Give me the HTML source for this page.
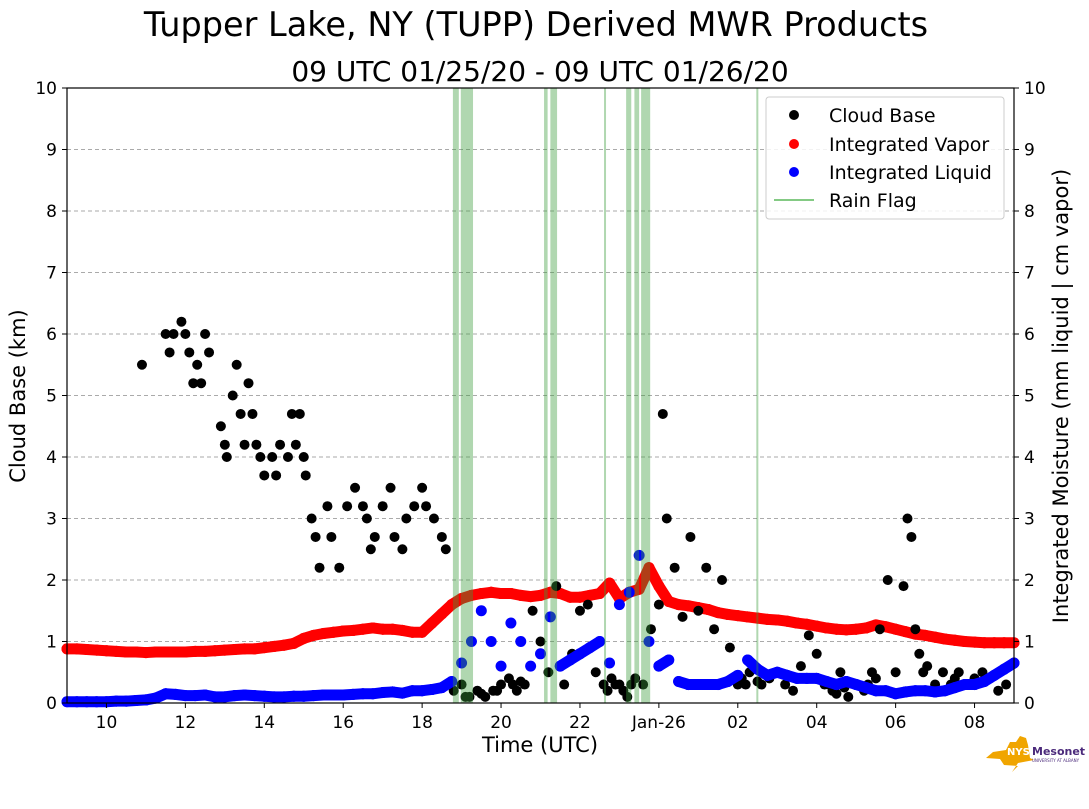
<!DOCTYPE html>
<html><head><meta charset="utf-8"><style>
body{margin:0;background:#fff;}
svg text{font-family:"DejaVu Sans","Liberation Sans",sans-serif;}
</style></head><body>
<svg id="chart" width="1089" height="804" xmlns="http://www.w3.org/2000/svg">
<text x="536" y="36" font-size="33.5" text-anchor="middle">Tupper Lake, NY (TUPP) Derived MWR Products</text>
<text x="540" y="81" font-size="28" text-anchor="middle">09 UTC 01/25/20 - 09 UTC 01/26/20</text>
<g id="grid"></g>
<g id="marks"></g>
<g id="rain"></g>
<rect x="67" y="88" width="947" height="615" fill="none" stroke="#000" stroke-width="1.2"/>
<g id="axes"></g>
<text x="540" y="752" font-size="21" text-anchor="middle">Time (UTC)</text>
<text transform="translate(25,396) rotate(-90)" font-size="21" text-anchor="middle">Cloud Base (km)</text>
<text transform="translate(1068,396) rotate(-90)" font-size="21" text-anchor="middle">Integrated Moisture (mm liquid | cm vapor)</text>
<g>
<rect x="766" y="97" width="238" height="122" rx="3" fill="#fff" fill-opacity="0.85" stroke="#ccc"/>
<circle cx="794" cy="115" r="5" fill="#000"/><text x="829" y="122" font-size="19">Cloud Base</text>
<circle cx="794" cy="144" r="5" fill="#f00"/><text x="829" y="151" font-size="19">Integrated Vapor</text>
<circle cx="794" cy="172" r="5" fill="#00f"/><text x="829" y="179" font-size="19">Integrated Liquid</text>
<line x1="774" y1="200" x2="814" y2="200" stroke="#5cb85c" stroke-width="1.5"/><text x="829" y="207" font-size="19">Rain Flag</text>
</g>
<g>
<polygon points="1010,742 1016,742 1020,736 1026,738 1028,745 1030,758 1034,760 1018,763 1012,772 1018,766 1004,765 1000,759 986,758 993,752 1006,750" fill="#f0a500"/>
<text x="1007" y="755" font-size="10" font-weight="bold" fill="#fff">NYS</text>
<text x="1032" y="755" font-size="11" font-weight="bold" fill="#4b2a7b">Mesonet</text>
<text x="1032" y="762" font-size="4" fill="#4b2a7b">UNIVERSITY AT ALBANY</text>
</g>
</svg>
<script>
const xTickHours=[10,12,14,16,18,20,22,24,26,28,30,32];
const xTickLabels=["10","12","14","16","18","20","22","Jan-26","02","04","06","08"];
const yTicks=[0,1,2,3,4,5,6,7,8,9,10];
const cloudTimes=[10.9,11.5,11.6,11.7,11.9,12.0,12.1,12.2,12.3,12.5,
12.4,12.6,12.9,13.0,13.05,13.2,13.3,13.4,13.5,13.6,
13.7,13.8,13.9,14.0,14.2,14.3,14.4,14.6,14.7,14.8,
14.9,15.0,15.05,15.2,15.3,15.4,15.6,15.7,15.9,16.1,
16.3,16.5,16.6,16.7,16.8,17.0,17.2,17.3,17.5,17.6,
17.8,18.0,18.1,18.3,18.5,18.6,18.8,19.0,19.2,19.4,
19.6,19.8,20.0,20.2,20.4,20.6,20.8,21.0,21.2,21.4,
21.6,21.8,22.0,22.2,22.4,22.6,22.8,23.0,23.2,23.4,
23.6,23.8,24.0,24.1,24.2,24.4,24.6,24.8,25.0,25.2,
25.4,25.6,25.8,26.0,26.2,26.4,26.6,26.8,27.0,27.2,
27.4,27.6,27.8,28.0,28.2,28.4,28.6,28.8,29.0,29.2,
29.4,29.6,29.8,30.0,30.2,30.3,30.4,30.5,30.6,30.8,
31.0,31.2,31.4,31.6,31.8,32.0,32.2,32.4,32.6,32.8,
19.1,19.5,19.9,20.3,20.5,22.7,22.9,23.1,23.3,26.1,26.3,26.5,28.3,28.5,28.7,29.3,29.5,30.7,31.5,32.5];
const cloudValues=[5.5,6,5.7,6,6.2,6,5.7,5.2,5.5,6,
5.2,5.7,4.5,4.2,4,5,5.5,4.7,4.2,5.2,
4.7,4.2,4,3.7,4,3.7,4.2,4,4.7,4.2,
4.7,4,3.7,3,2.7,2.2,3.2,2.7,2.2,3.2,
3.5,3.2,3,2.5,2.7,3.2,3.5,2.7,2.5,3,
3.2,3.5,3.2,3,2.7,2.5,0.2,0.3,0.1,0.2,
0.1,0.2,0.3,0.4,0.2,0.3,1.5,1.0,0.5,1.9,
0.3,0.8,1.5,1.6,0.5,0.3,0.4,0.3,0.1,0.4,
0.3,1.2,1.6,4.7,3,2.2,1.4,2.7,1.5,2.2,
1.2,2.0,0.9,0.3,0.3,0.6,0.3,0.4,0.5,0.3,
0.2,0.6,1.1,0.8,0.3,0.2,0.5,0.1,0.3,0.2,
0.5,1.2,2.0,0.5,1.9,3.0,2.7,1.2,0.8,0.6,
0.3,0.5,0.3,0.5,0.3,0.4,0.5,0.4,0.2,0.3,
0.1,0.15,0.2,0.3,0.35,0.2,0.3,0.2,0.3,0.4,0.5,0.35,0.3,0.15,0.25,0.3,0.4,0.5,0.4,0.45];
const seriesTimes=[];for(let i=0;i<=96;i++)seriesTimes.push(9+i*0.25);
const vaporValues=[.88,.88,.87,.86, .85,.84,.83,.83, .82,.83,.83,.83, .83,.84,.84,.85, .86,.87,.88,.88, .9,.92,.94,.97,
1.05,1.1,1.13,1.15, 1.17,1.18,1.2,1.22, 1.2,1.2,1.18,1.15, 1.15,1.3,1.45,1.6, 1.7,1.75,1.78,1.8, 1.78,1.78,1.75,1.73,
1.75,1.8,1.78,1.72, 1.72,1.75,1.78,1.95, 1.7,1.8,1.85,2.2, 1.9,1.65,1.6,1.58, 1.55,1.52,1.47,1.44, 1.42,1.4,1.38,1.36,
1.35,1.33,1.3,1.28, 1.25,1.22,1.2,1.19, 1.2,1.22,1.27,1.24, 1.2,1.16,1.12,1.1, 1.07,1.04,1.02,1.0, .99,.98,.98,.98, .98];
const liquidValues=[.02,.02,.02,.02, .02,.03,.03,.04, .05,.08,.15,.14, .12,.12,.13,.1, .1,.12,.13,.12, .11,.1,.1,.11,
.11,.12,.13,.13, .13,.14,.15,.15, .17,.18,.16,.2, .2,.22,.25,.35, .65,1.0,1.5,1.0, .6,1.3,1.0,.6,
.8,1.4,.6,.7, .8,.9,1.0,.65, 1.6,1.8,2.4,1.0, .6,.7,.35,.3, .3,.3,.3,.35, .45,.7,.55,.45,
.5,.45,.4,.4, .4,.35,.3,.35, .3,.25,.2,.2, .15,.18,.2,.2, .18,.2,.25,.3, .3,.35,.45,.55, .65];
const rainStart=[18.78,18.98,21.09,21.25,22.61,23.17,23.38,23.55,26.47];
const rainEnd=[18.93,19.29,21.18,21.42,22.65,23.3,23.5,23.78,26.51];

const NS="http://www.w3.org/2000/svg";
const X0=67,X1=1014,Y0=703,Y1=88;
const xs=h=>X0+(h-9)*(X1-X0)/24;
const ys=v=>Y0-v*(Y0-Y1)/10;
function mk(tag,attrs,parent){const e=document.createElementNS(NS,tag);for(const k in attrs)e.setAttribute(k,attrs[k]);document.getElementById(parent).appendChild(e);return e;}
yTicks.forEach(v=>{
 if(v>0&&v<10){const g=mk('line',{x1:X0,x2:X1,y1:ys(v),y2:ys(v),stroke:'#aaa','stroke-dasharray':'4,3','stroke-width':1},'grid');
 
 }
 [[X0,-1],[X1,1]].forEach(([x,d])=>{
  const t=mk('line',{x1:x,x2:x+d*5,y1:ys(v),y2:ys(v),stroke:'#000'},'axes');
  
  
  const l=mk('text',{x:x+d*10,y:ys(v)+6,'font-size':17,'text-anchor':d<0?'end':'start'},'axes');l.textContent=v;
  
  
 });
});
xTickHours.forEach((h,i)=>{
 const t=mk('line',{x1:xs(h),x2:xs(h),y1:Y0,y2:Y0+5,stroke:'#000'},'axes');
 
 
 const l=mk('text',{x:xs(h),y:Y0+25,'font-size':17,'text-anchor':'middle'},'axes');l.textContent=xTickLabels[i];
 
 
});
function series(times,vals,color,name,thr){
 for(let i=1;i<vals.length;i++){
  if(Math.abs(vals[i]-vals[i-1])<thr){
   const ln=mk('line',{x1:xs(times[i-1]),y1:ys(vals[i-1]),x2:xs(times[i]),y2:ys(vals[i]),stroke:color,'stroke-width':11,'stroke-linecap':'round'},'marks');
   
   
  }
 }
 times.forEach((h,i)=>{
  const c=mk('circle',{cx:xs(h),cy:ys(vals[i]),r:5.5,fill:color},'marks');
  
  
 });
}
series(seriesTimes,vaporValues,'#f00','vapor',0.4);
cloudTimes.forEach((h,i)=>{
 const c=mk('circle',{cx:xs(h),cy:ys(cloudValues[i]),r:5,fill:'#000'},'marks');
 
 });
series(seriesTimes,liquidValues,'#00f','liquid',0.18);
rainStart.forEach((s,i)=>{
 const r=mk('rect',{x:xs(s),y:Y1,width:Math.max(2,xs(rainEnd[i])-xs(s)),height:Y0-Y1,fill:'#3a9a3a','fill-opacity':0.4},'rain');
 
 });
</script>
</body></html>
